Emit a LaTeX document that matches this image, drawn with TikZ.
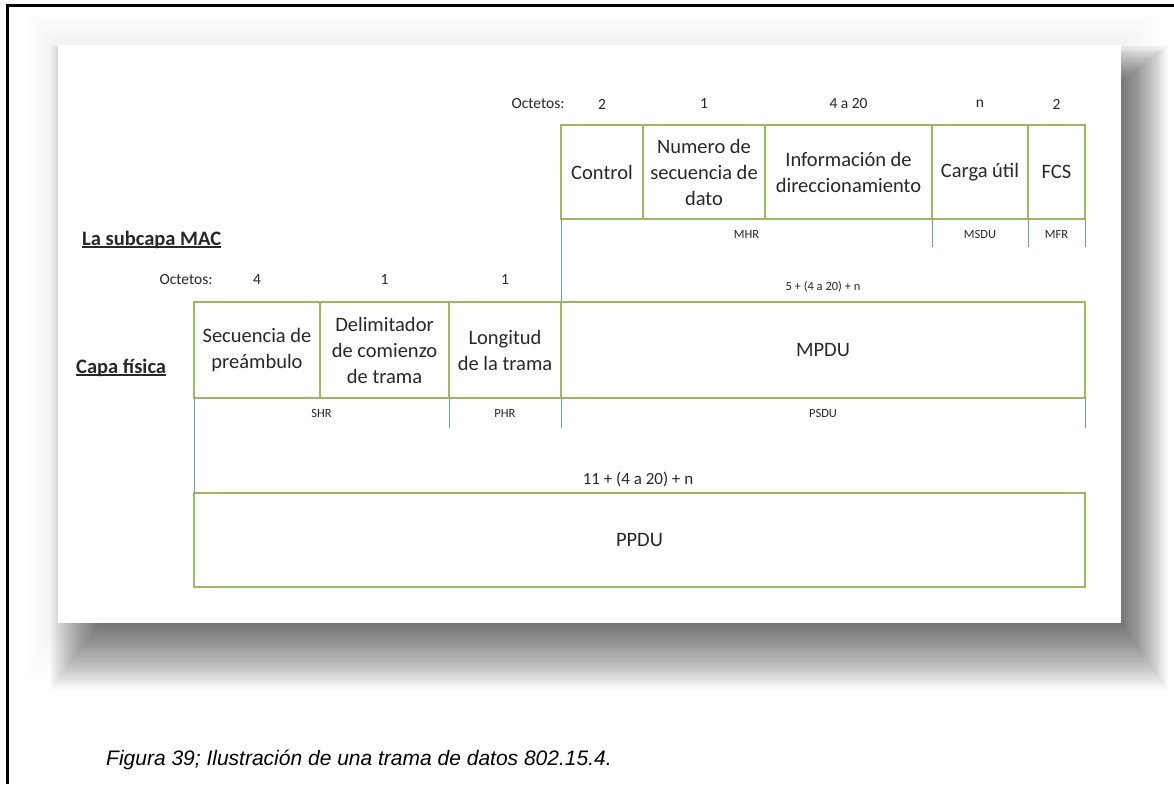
\documentclass[tikz,border=0pt]{standalone}
\usepackage{fontspec}
\setmainfont{Carlito}
\newfontfamily\captionfont{Liberation Sans}
\definecolor{boxgreen}{RGB}{155,187,89}
\definecolor{linkblue}{RGB}{115,150,195}
\definecolor{ink}{RGB}{40,40,40}
\tikzset{
  cell/.style={draw=boxgreen, line width=1.1pt, inner sep=0pt, outer sep=0pt,
    align=center, text=ink, font=\fontsize{20.5}{26}\selectfont},
  tag/.style={inner sep=0pt, text=ink, font=\fontsize{12.5}{14}\selectfont},
  count/.style={inner sep=0pt, text=ink, font=\fontsize{15.5}{18}\selectfont},
  layer/.style={inner sep=0pt, text=ink, font=\bfseries\fontsize{20.5}{24}\selectfont},
  bracket/.style={draw=linkblue, line width=1pt},
}
\begin{document}
\begin{tikzpicture}[x=1pt,y=-1pt]
\useasboundingbox (0,0) rectangle (1174,784);
\fill[white] (0,0) rectangle (1174,784);

% page frame
\draw[line width=3pt] (7,784) -- (7,6) -- (1174,6);

% soft glow around the sheet
\foreach \i in {0,...,11}{
  \pgfmathsetmacro\e{(12-\i)/12}
  \fill[black, fill opacity=0.0055] ({58-33*\e},{45-33*\e}) rectangle ({1121+40*\e},{623+60*\e});
}
% drop shadow towards the lower right
\foreach \i in {0,...,31}{
  \pgfmathsetmacro\e{(32-\i)/32}
  \fill[black, fill opacity=0.0185] ({100-50*\e},{83-38*\e}) rectangle ({1121+47*\e},{623+67*\e});
}
% sheet
\fill[white] (58,45) rectangle (1121,623);

% ---------- MAC sublayer ----------
\node[count] (octA) at (538,104) {Octetos:};
\node[count] (nA1) at (602,104) {2};
\node[count] (nA2) at (704,104) {1};
\node[count] (nA3) at (848.5,104) {4 a 20};
\node[count] (nA4) at (980,104) {n};
\node[count] (nA5) at (1056.5,104) {2};

\node[cell, minimum width=82pt,  minimum height=94pt] (ctl) at (602,172) {Control};
\node[cell, minimum width=122pt, minimum height=94pt] (nsd) at (704,172) {Numero de\\secuencia de\\dato};
\node[cell, minimum width=167pt, minimum height=94pt] (dir) at (848.5,172) {Información de\\direccionamiento};
\node[cell, minimum width=96pt,  minimum height=94pt] (pay) at (980,172) {Carga útil};
\node[cell, minimum width=57pt,  minimum height=94pt] (fcs) at (1056.5,172) {FCS};

\node[tag] (mhr) at (746.5,234) {MHR};
\node[tag] (msdu) at (980,234) {MSDU};
\node[tag] (mfr) at (1056.5,234) {MFR};

\node[layer, anchor=west] (mac) at (82,240) {La subcapa MAC};
\draw[ink, line width=1.3pt] ([yshift=2pt]mac.south west) -- ([yshift=2pt]mac.south east);

% ---------- physical layer ----------
\node[count] (octB) at (186,280) {Octetos:};
\node[count] (nB1) at (257,280) {4};
\node[count] (nB2) at (384.5,280) {1};
\node[count] (nB3) at (505,280) {1};
\node[tag] (lenA) at (823,287) {5 + (4 a 20) + n};

\node[cell, minimum width=126pt, minimum height=96pt] (pre) at (257,350) {Secuencia de\\preámbulo};
\node[cell, minimum width=129pt, minimum height=96pt] (sfd) at (384.5,350) {Delimitador\\de comienzo\\de trama};
\node[cell, minimum width=112pt, minimum height=96pt] (len) at (505,350) {Longitud\\de la trama};
\node[cell, minimum width=524pt, minimum height=96pt] (mpdu) at (823,350) {MPDU};

\node[layer, anchor=west] (phy) at (76,368) {Capa física};
\draw[ink, line width=1.3pt] ([yshift=2pt]phy.south west) -- ([yshift=2pt]phy.south east);

\node[tag] (shr) at (321.5,413) {SHR};
\node[tag] (phr) at (505,413) {PHR};
\node[tag] (psdu) at (823,413) {PSDU};

\node[inner sep=0pt, text=ink, font=\fontsize{17}{20}\selectfont] (lenB) at (638,479) {11 + (4 a 20) + n};
\node[cell, minimum width=891pt, minimum height=94pt] (ppdu) at (639.5,540) {PPDU};

% brackets below the fields
\draw[bracket] (ctl.south west) -- (mpdu.north west);
\draw[bracket] (pay.south west) -- ++(0,28);
\draw[bracket] (fcs.south west) -- ++(0,28);
\draw[bracket] (fcs.south east) -- ++(0,28);
\draw[bracket] (pre.south west) -- (ppdu.north west);
\draw[bracket] (len.south west) -- ++(0,30);
\draw[bracket] (mpdu.south west) -- ++(0,30);
\draw[bracket] (mpdu.south east) -- ++(0,30);

% caption
\node[anchor=west, inner sep=0pt, font=\captionfont\itshape\fontsize{21}{24}\selectfont] (cap) at (106,760)
  {Figura 39; Ilustración de una trama de datos 802.15.4.};
\end{tikzpicture}
\end{document}
